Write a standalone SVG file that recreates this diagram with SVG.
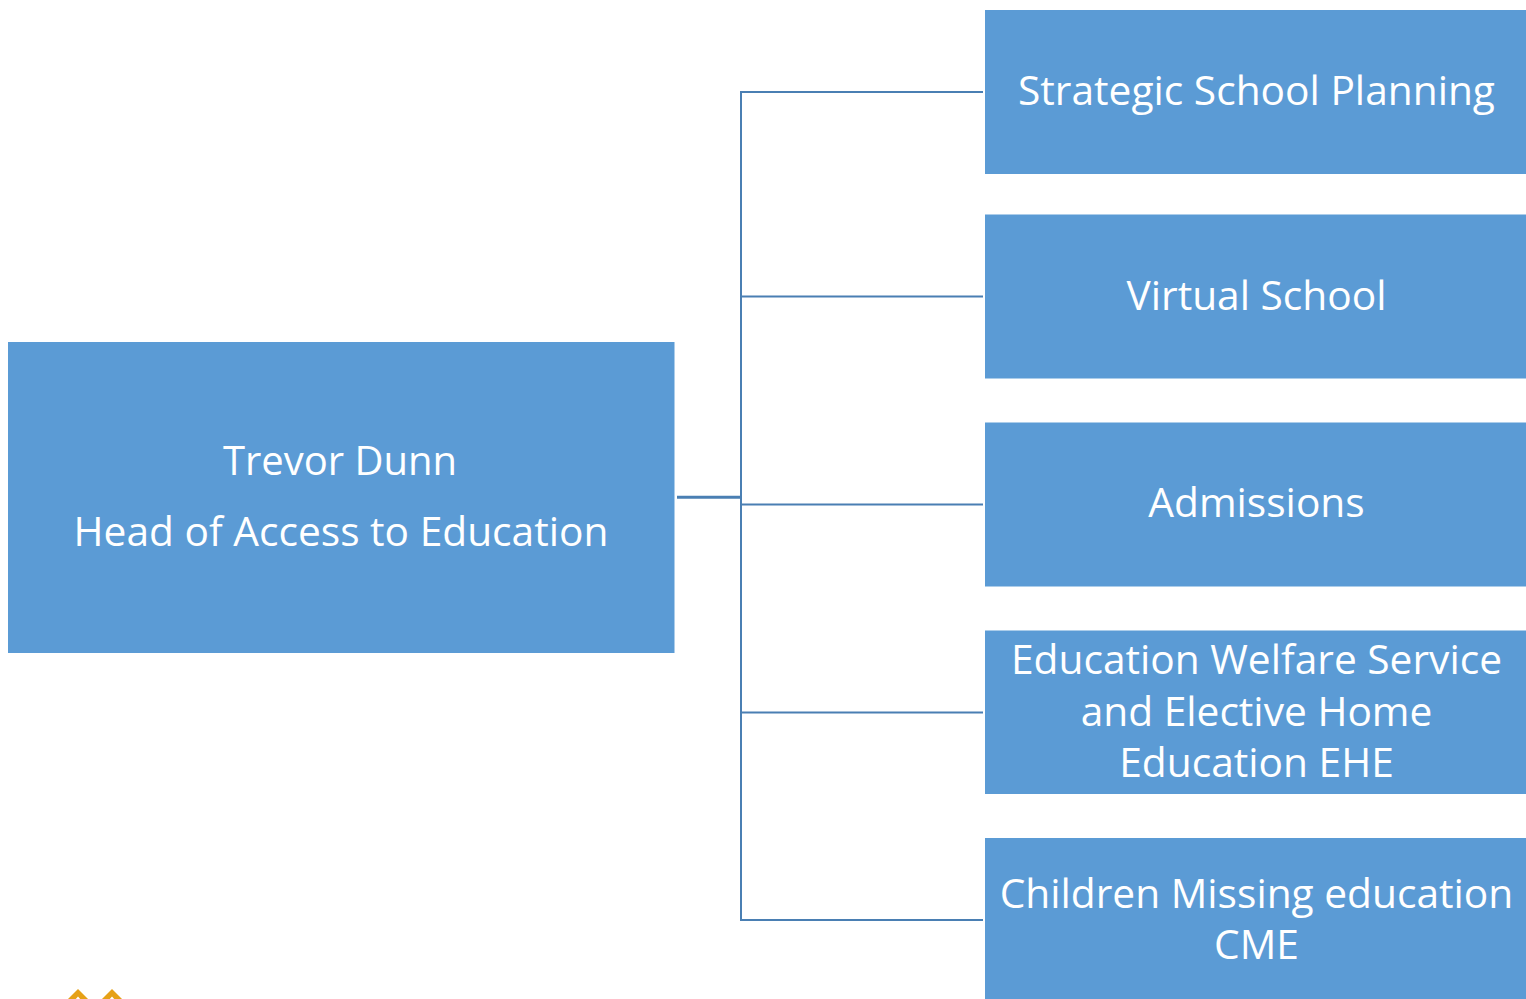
<svg xmlns="http://www.w3.org/2000/svg" width="1526" height="999" viewBox="0 0 1526 999">
<style>
.box{fill:#5b9bd5}
.t{font-family:"Open Sans","Noto Sans","Liberation Sans",sans-serif;font-size:40.7px;fill:#fff;text-anchor:middle}
.c{fill:none;stroke:#4a7fb3;stroke-width:2}
.o{fill:#e6a117}
.i{fill:#fff}
</style>
<rect width="1526" height="999" fill="#fff"/>
<g id="connectors">
<path class="c" d="M983 92H741V920H983M741 296.500H983M741 504.500H983M741 712.500H983"/>
<path class="c" style="stroke-width:3" d="M677 497.300H741"/>
</g>
<g id="root"><rect class="box" x="8" y="342" width="666.500" height="311"/>
<text class="t" x="340" y="475" style="font-size:40px">Trevor Dunn</text><text class="t" x="341" y="546">Head of Access to Education</text></g>
<g id="n1"><rect class="box" x="985" y="10" width="541" height="164"/><text class="t" x="1256.500" y="104.500">Strategic School Planning</text></g>
<g id="n2"><rect class="box" x="985" y="214.500" width="541" height="164"/><text class="t" x="1256.500" y="310">Virtual School</text></g>
<g id="n3"><rect class="box" x="985" y="422.500" width="541" height="164"/><text class="t" x="1256.500" y="516.500">Admissions</text></g>
<g id="n4"><rect class="box" x="985" y="630.500" width="541" height="163.500"/><text class="t" x="1256.500" y="673.500">Education Welfare Service</text><text class="t" x="1256.500" y="725.500">and Elective Home</text><text class="t" x="1256.500" y="776.500">Education EHE</text></g>
<g id="n5"><rect class="box" x="985" y="838" width="541" height="161"/><text class="t" x="1256.500" y="907.500">Children Missing education</text><text class="t" x="1256.500" y="958.500">CME</text></g>
<g id="logo-fragment">
<polygon class="o" points="78,989 65,1002 91,1002"/><polygon class="i" points="78,996.500 74,1001 82,1001"/>
<polygon class="o" points="112,989 99,1002 125,1002"/><polygon class="i" points="112,996.500 108,1001 116,1001"/>
</g>
</svg>
